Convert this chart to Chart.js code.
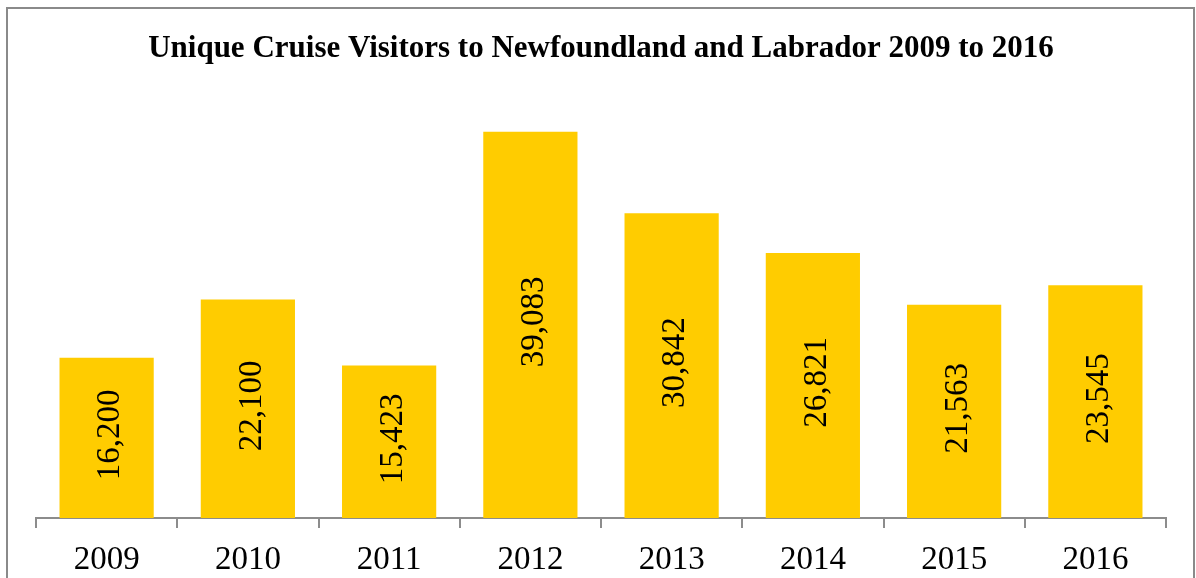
<!DOCTYPE html>
<html>
<head>
<meta charset="utf-8">
<script src="https://cdn.jsdelivr.net/npm/chart.js@4"></script>
<style>
  html, body { margin: 0; padding: 0; background: #fff; }
  .chart-container { position: relative; width: 1196px; height: 578px; }
</style>
</head>
<body>
<div class="chart-container"><canvas id="canvas"></canvas></div>
<script>
const years = ["2009", "2010", "2011", "2012", "2013", "2014", "2015", "2016"];
const visitors = [16200, 22100, 15423, 39083, 30842, 26821, 21563, 23545];
const chartTitle = "Unique Cruise Visitors to Newfoundland and Labrador 2009 to 2016";

const serif = "'Liberation Serif', 'Times New Roman', serif";

//! ------------------------ plugins ------------------------

// white page + grey frame around the whole chart (bottom edge runs off the canvas)
const framePlugin = {
  id: "frame",
  beforeDraw(chart) {
    const ctx = chart.ctx;
    ctx.save();
    ctx.fillStyle = "#ffffff";
    ctx.fillRect(0, 0, chart.width, chart.height);
    ctx.restore();
  },
  afterDraw(chart) {
    const ctx = chart.ctx;
    ctx.save();
    ctx.strokeStyle = "#8a8a8a";
    ctx.lineWidth = 2;
    ctx.strokeRect(7, 8, chart.width - 9, chart.height + 20);
    ctx.restore();
  },
};

// value written sideways inside each bar
const barLabels = {
  id: "barLabels",
  afterDatasetsDraw(chart) {
    const ctx = chart.ctx;
    const meta = chart.getDatasetMeta(0);
    ctx.save();
    ctx.font = "33px " + serif;
    ctx.fillStyle = "#000";
    ctx.textAlign = "center";
    ctx.textBaseline = "middle";
    meta.data.forEach((bar, i) => {
      const cy = (bar.y + bar.base) / 2 - 3;
      ctx.save();
      ctx.translate(bar.x + 4, cy);
      ctx.rotate(-Math.PI / 2);
      ctx.fillText(visitors[i].toLocaleString("en-US"), 0, 0);
      ctx.restore();
    });
    ctx.restore();
  },
};

//! ------------------------ chart ------------------------

const config = {
  type: "bar",
  data: {
    labels: years,
    datasets: [
      {
        label: "Unique cruise visitors",
        data: visitors,
        backgroundColor: "#ffcc00",
        borderWidth: 0,
        categoryPercentage: 0.667,
        barPercentage: 1,
      },
    ],
  },
  options: {
    responsive: true,
    maintainAspectRatio: false,
    animation: false,
    layout: { padding: { left: 36, right: 30, top: 0, bottom: 0 } },
    plugins: {
      legend: { display: false },
      tooltip: { enabled: false },
      title: {
        display: true,
        text: chartTitle,
        color: "#000",
        font: { family: serif, size: 31, weight: "bold" },
        padding: { top: 30, bottom: 6 },
      },
    },
    scales: {
      x: {
        offset: true,
        // fixed axis band so the baseline sits 60px above the bottom edge
        afterFit: (scale) => {
          scale.height = 60;
        },
        grid: {
          display: true,
          drawOnChartArea: false,
          drawTicks: true,
          tickLength: 10,
          color: "#8c8c8c",
          lineWidth: 2,
        },
        border: { display: true, color: "#8c8c8c", width: 2 },
        ticks: {
          color: "#000",
          font: { family: serif, size: 33, lineHeight: 1 },
          padding: 16,
        },
      },
      y: {
        display: false,
        min: 0,
        max: 45000,
      },
    },
  },
  plugins: [framePlugin, barLabels],
};

const myChart = new Chart(document.getElementById("canvas"), config);
</script>
</body>
</html>
